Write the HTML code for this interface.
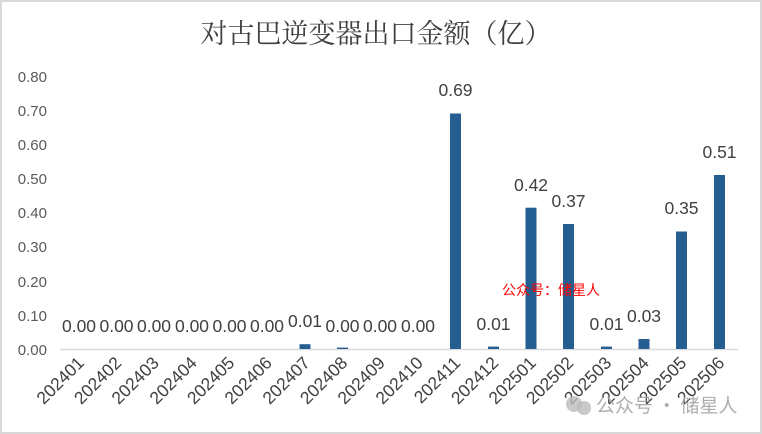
<!DOCTYPE html>
<html><head><meta charset="utf-8"><style>
html,body{margin:0;padding:0;background:#fff;}
svg{display:block;}
</style></head><body>
<svg width="762" height="434" viewBox="0 0 762 434" xmlns="http://www.w3.org/2000/svg">
<rect x="1" y="1" width="760" height="432" fill="#fff" stroke="#d9d9d9" stroke-width="2"/>
<text x="376" y="43" text-anchor="middle" font-family="'Noto Serif CJK SC','Liberation Serif',serif" font-size="27" fill="#404040">对古巴逆变器出口金额（亿）</text>
<g font-family="'Liberation Sans',sans-serif" font-size="15" fill="#595959" text-anchor="end">
<text x="47" y="82">0.80</text>
<text x="47" y="116">0.70</text>
<text x="47" y="150">0.60</text>
<text x="47" y="184">0.50</text>
<text x="47" y="218">0.40</text>
<text x="47" y="252">0.30</text>
<text x="47" y="287">0.20</text>
<text x="47" y="321">0.10</text>
<text x="47" y="355">0.00</text>
</g>
<line x1="60" y1="349.5" x2="738" y2="349.5" stroke="#d9d9d9" stroke-width="1.5"/>
<g fill="#255e91">
<rect x="299.5" y="344.2" width="11" height="4.8"/>
<rect x="337" y="347.6" width="11" height="1.4"/>
<rect x="450" y="113.5" width="11" height="235.5"/>
<rect x="488" y="346.6" width="11" height="2.4"/>
<rect x="525.5" y="207.7" width="11" height="141.3"/>
<rect x="563" y="224" width="11" height="125"/>
<rect x="601" y="346.6" width="11" height="2.4"/>
<rect x="638.5" y="339" width="11" height="10"/>
<rect x="676" y="231.5" width="11" height="117.5"/>
<rect x="714" y="175" width="11" height="174"/>
</g>
<g font-family="'Liberation Sans',sans-serif" font-size="17.5" fill="#404040" text-anchor="middle">
<text x="79" y="332">0.00</text>
<text x="116.5" y="332">0.00</text>
<text x="154" y="332">0.00</text>
<text x="192" y="332">0.00</text>
<text x="229.5" y="332">0.00</text>
<text x="267" y="332">0.00</text>
<text x="305" y="327">0.01</text>
<text x="342.5" y="332">0.00</text>
<text x="380" y="332">0.00</text>
<text x="418" y="332">0.00</text>
<text x="455.5" y="96">0.69</text>
<text x="493.5" y="330">0.01</text>
<text x="531" y="191">0.42</text>
<text x="568.5" y="207">0.37</text>
<text x="606.5" y="330">0.01</text>
<text x="644" y="322">0.03</text>
<text x="681.5" y="214">0.35</text>
<text x="719.5" y="158">0.51</text>
</g>
<g font-family="'Liberation Sans',sans-serif" font-size="17.5" fill="#404040" text-anchor="end">
<text transform="translate(85,364) rotate(-45)">202401</text>
<text transform="translate(122.5,364) rotate(-45)">202402</text>
<text transform="translate(160,364) rotate(-45)">202403</text>
<text transform="translate(198,364) rotate(-45)">202404</text>
<text transform="translate(235.5,364) rotate(-45)">202405</text>
<text transform="translate(273,364) rotate(-45)">202406</text>
<text transform="translate(311,364) rotate(-45)">202407</text>
<text transform="translate(348.5,364) rotate(-45)">202408</text>
<text transform="translate(386,364) rotate(-45)">202409</text>
<text transform="translate(424,364) rotate(-45)">202410</text>
<text transform="translate(461.5,364) rotate(-45)">202411</text>
<text transform="translate(499.5,364) rotate(-45)">202412</text>
<text transform="translate(537,364) rotate(-45)">202501</text>
<text transform="translate(574.5,364) rotate(-45)">202502</text>
<text transform="translate(612.5,364) rotate(-45)">202503</text>
<text transform="translate(650,364) rotate(-45)">202504</text>
<text transform="translate(687.5,364) rotate(-45)">202505</text>
<text transform="translate(725.5,364) rotate(-45)">202506</text>
</g>
<text x="502" y="295" font-family="'Noto Sans CJK SC',sans-serif" font-size="14" fill="#ff0000">公众号：储星人</text>
<circle cx="574" cy="404" r="8" fill="#bbb" opacity="0.8"/>
<circle cx="584" cy="408" r="7" fill="#bbb" opacity="0.8"/>
<text x="596" y="412" font-family="'Noto Sans CJK SC',sans-serif" font-size="19" fill="#a0a0a0" opacity="0.85">公众号 · 储星人</text>
</svg>
</body></html>
